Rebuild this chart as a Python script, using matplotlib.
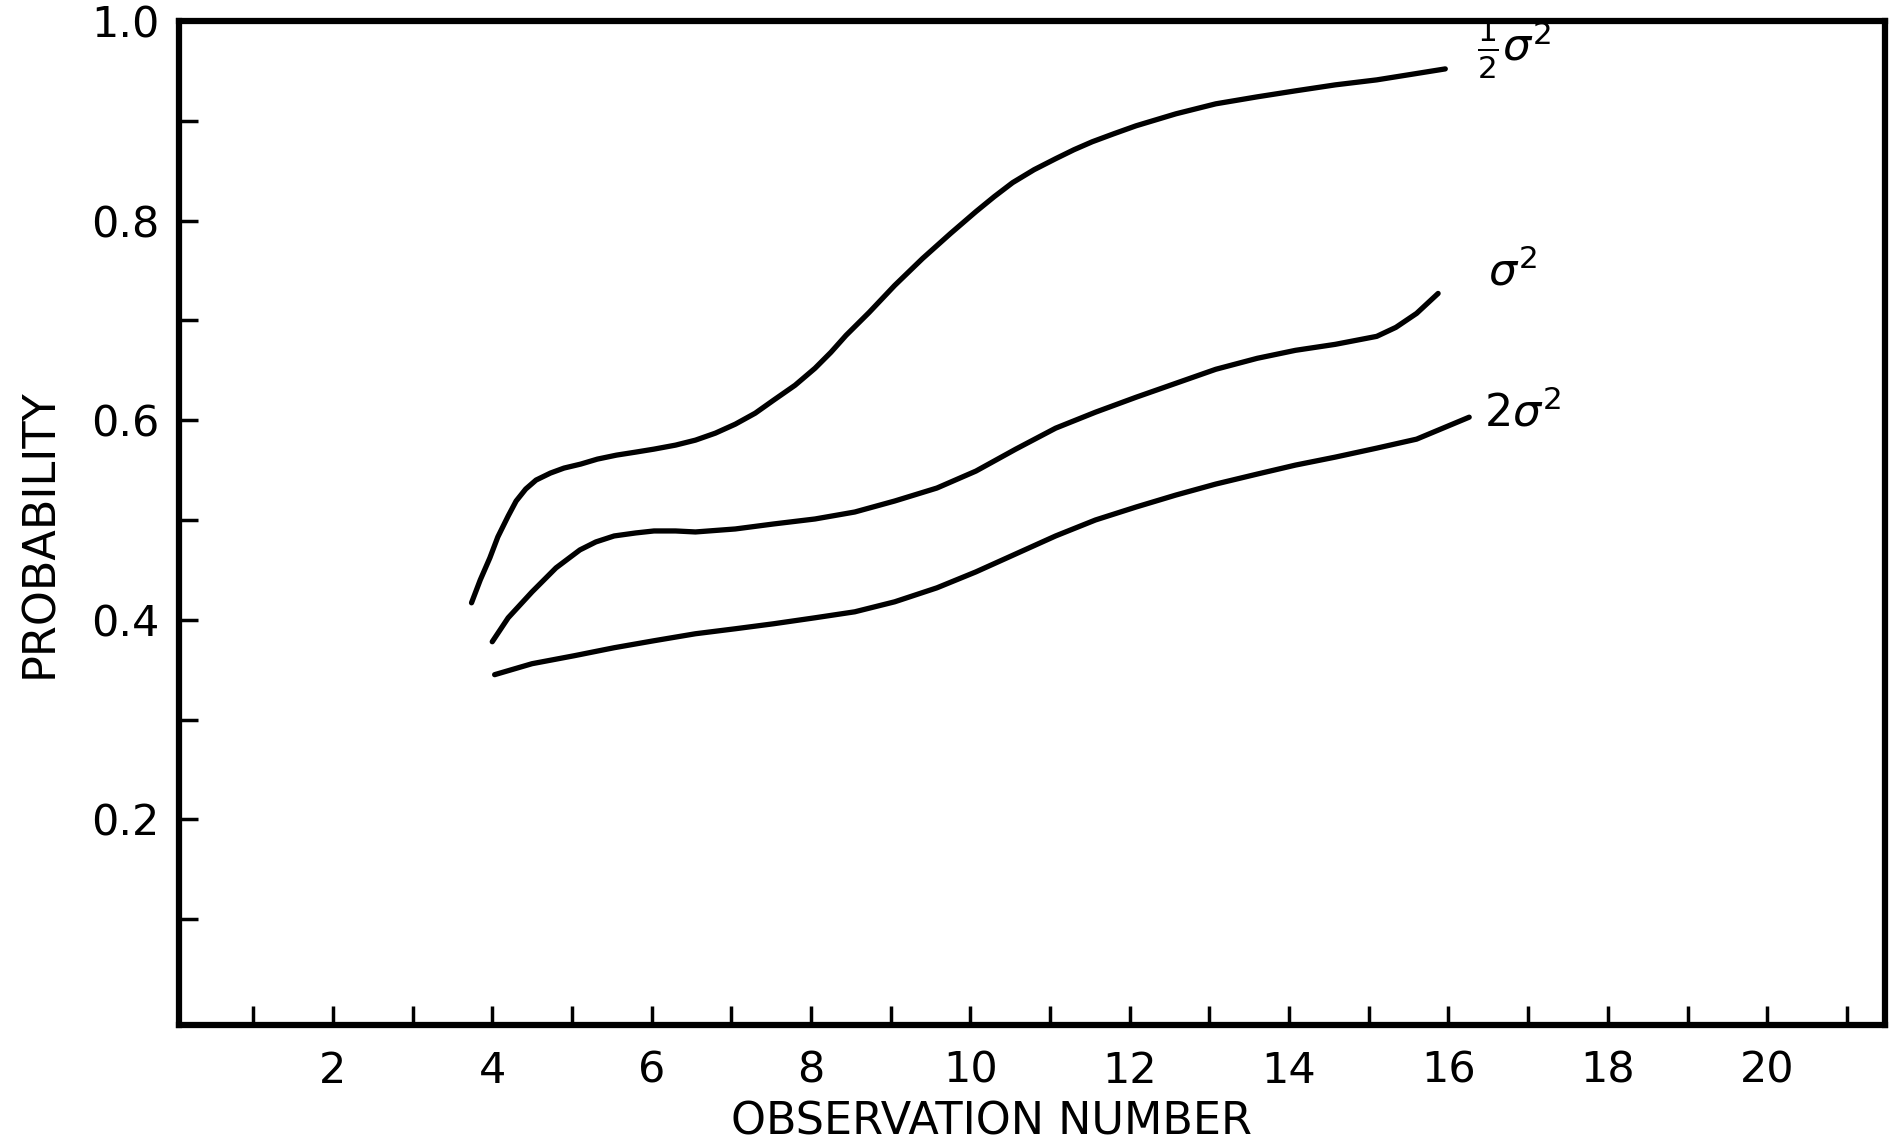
import numpy as np
import matplotlib.pyplot as plt

# curves
obs_half = [3.74, 3.85, 3.97, 4.07, 4.2, 4.3, 4.42, 4.55, 4.73, 4.9, 5.11, 5.32, 5.56, 5.8, 6.03,
            6.3, 6.55, 6.8, 7.05, 7.3, 7.53, 7.8, 8.05, 8.25, 8.44, 8.73, 9.05, 9.4, 9.75,
            10.07, 10.3, 10.53, 10.8, 11.07, 11.3, 11.53, 11.8, 12.08, 12.58, 13.08, 13.6,
            14.08, 14.58, 15.1, 15.57, 15.96]
prob_half = [0.417, 0.44, 0.462, 0.483, 0.504, 0.519, 0.531, 0.54, 0.547, 0.552, 0.556, 0.561,
             0.565, 0.568, 0.571, 0.575, 0.58, 0.587, 0.596, 0.607, 0.62, 0.635, 0.652, 0.668,
             0.685, 0.708, 0.735, 0.762, 0.787, 0.809, 0.824, 0.838, 0.851, 0.862, 0.871,
             0.879, 0.887, 0.895, 0.907, 0.917, 0.924, 0.93, 0.936, 0.941, 0.947, 0.952]

obs_one = [4.0, 4.2, 4.5, 4.8, 5.1, 5.3, 5.53, 5.8, 6.03, 6.3, 6.55, 7.05, 7.53, 8.05, 8.55,
           9.05, 9.58, 10.07, 10.57, 11.07, 11.57, 12.08, 12.58, 13.08, 13.6, 14.08, 14.58,
           15.1, 15.34, 15.6, 15.87]
prob_one = [0.378, 0.402, 0.428, 0.452, 0.47, 0.478, 0.484, 0.487, 0.489, 0.489, 0.488, 0.491,
            0.496, 0.501, 0.508, 0.519, 0.532, 0.549, 0.571, 0.592, 0.608, 0.623, 0.637, 0.651,
            0.662, 0.67, 0.676, 0.684, 0.693, 0.707, 0.727]

obs_two = [4.03, 4.5, 5.03, 5.53, 6.03, 6.55, 7.05, 7.53, 8.05, 8.55, 9.05, 9.58, 10.07, 10.57,
           11.07, 11.57, 12.08, 12.58, 13.08, 13.6, 14.08, 14.58, 15.1, 15.6, 16.26]
prob_two = [0.345, 0.356, 0.364, 0.372, 0.379, 0.386, 0.391, 0.396, 0.402, 0.408, 0.418, 0.432,
            0.448, 0.466, 0.484, 0.5, 0.513, 0.525, 0.536, 0.546, 0.555, 0.563, 0.572, 0.581,
            0.603]

x_ticks = list(range(1, 22))
y_ticks = [0.1, 0.2, 0.3, 0.4, 0.5, 0.6, 0.7, 0.8, 0.9, 1.0]

fig = plt.figure(figsize=(18.95, 11.47), dpi=100)
ax = fig.add_axes([0.0945, 0.1064, 0.9003, 0.8753])

line_kw = dict(color='black', lw=3.8, solid_capstyle='round', solid_joinstyle='round')
ax.plot(obs_half, prob_half, **line_kw)
ax.plot(obs_one, prob_one, **line_kw)
ax.plot(obs_two, prob_two, **line_kw)

ax.text(16.36, 0.972, r'$\frac{1}{2}\sigma^2$', fontsize=32, va='center', ha='left')
ax.text(16.5, 0.748, r'$\sigma^2$', fontsize=32, va='center', ha='left')
ax.text(16.45, 0.607, r'$2\sigma^2$', fontsize=32, va='center', ha='left')

ax.set_xlim(0.07, 21.48)
ax.set_ylim(-0.006, 1.0)

ax.set_xticks(x_ticks)
ax.set_xticklabels([str(t) if t % 2 == 0 else '' for t in x_ticks])
ax.set_yticks(y_ticks)
ax.set_yticklabels(['%.1f' % t if round(t * 10) % 2 == 0 else '' for t in y_ticks])

ax.tick_params(direction='in', length=14, width=2.5, labelsize=31, pad=14,
               top=False, right=False)
ax.tick_params(axis='x', pad=18)

for s in ax.spines.values():
    s.set_linewidth(4.5)

ax.set_xlabel('OBSERVATION NUMBER', fontsize=32, va='center')
ax.xaxis.set_label_coords(0.476, -0.097)
ax.set_ylabel('PROBABILITY', fontsize=32, va='center')
ax.yaxis.set_label_coords(-0.0815, 0.49)

fig.savefig('out.png', dpi=100)
